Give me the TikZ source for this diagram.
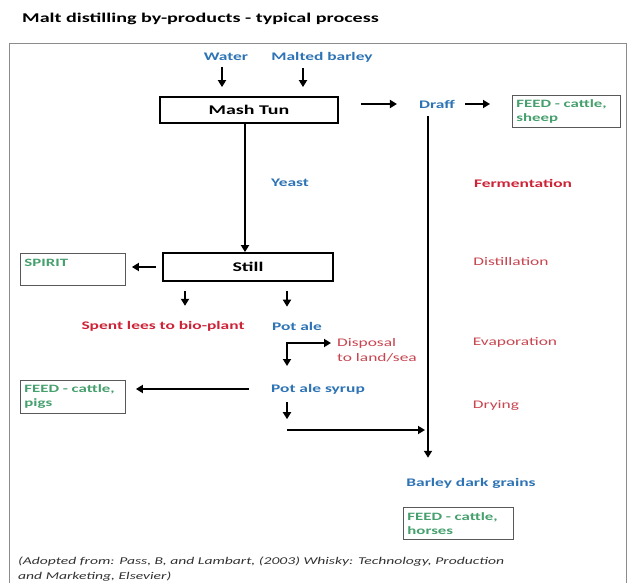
\documentclass[tikz,border=0pt]{standalone}
\usepackage{fontspec}
\setmainfont[FakeStretch=1.5]{Carlito}
\usetikzlibrary{arrows.meta}
\definecolor{lblue}{RGB}{46,116,181}
\definecolor{lgreen}{RGB}{70,160,110}
\definecolor{lred}{RGB}{205,35,55}
\definecolor{lred2}{RGB}{200,70,80}
\definecolor{framegray}{RGB}{140,140,140}
\tikzset{
  arr/.style={line width=1.8pt,-{Triangle[length=7pt,width=8pt]}},
  arrb/.style={line width=1.8pt,{Triangle[length=7pt,width=8pt]}-{Triangle[length=7pt,width=8pt]}},
  bluelab/.style={text=lblue,font=\fontsize{11.6}{13}\selectfont\bfseries,inner sep=0pt},
  redlab/.style={text=lred,font=\fontsize{11.6}{13}\selectfont\bfseries,inner sep=0pt},
  redlab2/.style={text=lred2,font=\fontsize{11.6}{15.5}\selectfont,inner sep=0pt},
  procbox/.style={draw,line width=1.8pt,font=\fontsize{13.3}{15}\selectfont\bfseries,inner sep=0pt},
  feedbox/.style={draw=gray!70!black,line width=0.9pt,text=lgreen,font=\fontsize{11.2}{14}\selectfont\bfseries,align=left,inner xsep=4pt,inner ysep=2pt,anchor=north west}
}
\begin{document}
\begin{tikzpicture}[x=1pt,y=-1pt]
\useasboundingbox (0,0) rectangle (629,583);
\fill[white] (0,0) rectangle (629,583);
% frame
\draw[framegray,line width=1pt] (9,600) -- (9,44) -- (626,44) -- (626,600);
% title
\node[anchor=west,inner sep=0pt,font=\fontsize{13.4}{15}\selectfont\bfseries] (title) at (22,19) {Malt distilling by-products - typical process};
% inputs
\node[bluelab] (water) at (226,57) {Water};
\node[bluelab] (malt) at (322,57) {Malted barley};
\node[procbox,minimum width=178pt,minimum height=26pt] (mash) at (249,110) {Mash Tun};
\node[bluelab] (draff) at (437,104) {Draff};
\node[feedbox,minimum width=108pt,minimum height=32pt,text width=100pt] (feed1) at (512,95) {FEED - cattle,\\sheep};
\node[bluelab] (yeast) at (290,183) {Yeast};
\node[redlab] (ferm) at (523,183) {Fermentation};
\node[procbox,minimum width=170pt,minimum height=28pt] (still) at (248,267) {Still};
\node[feedbox,minimum width=105pt,minimum height=32pt,text width=97pt] (spirit) at (20,253) {SPIRIT\\\mbox{}};
\node[redlab2] (distill) at (511,262) {Distillation};
\node[redlab] (lees) at (163,326) {Spent lees to bio-plant};
\node[bluelab] (potale) at (297,326) {Pot ale};
\node[redlab2,align=left,anchor=west] (disposal) at (337,350) {Disposal\\to land/sea};
\node[redlab2] (evap) at (515,342) {Evaporation};
\node[bluelab] (syrup) at (318,389) {Pot ale syrup};
\node[redlab2] (drying) at (496,406) {Drying};
\node[feedbox,minimum width=105pt,minimum height=33pt,text width=97pt] (feed2) at (20,380) {FEED - cattle,\\pigs};
\node[bluelab] (bdg) at (471,483) {Barley dark grains};
\node[feedbox,minimum width=110pt,minimum height=32pt,text width=102pt] (feed3) at (403,507) {FEED - cattle,\\horses};
\node[anchor=north west,align=left,inner sep=0pt,text=black!80,font=\fontsize{10.4}{14.5}\selectfont\itshape] (cite) at (18,557) {(Adopted from: Pass, B, and Lambart, (2003) Whisky: Technology, Production\\and Marketing, Elsevier)};
% connectors
\coordinate (elbow) at (287,343);
\coordinate (join) at (428,430);
\draw[arr] ([yshift=-6pt]water.south -| 222,0) -- ([yshift=9pt]mash.north -| 222,0);
\draw[arr] ([yshift=-6pt]malt.south -| 303,0) -- ([yshift=9pt]mash.north -| 303,0);
\draw[arr] ([xshift=22pt]mash.east |- draff.west) -- ([xshift=-22pt]draff.west);
\draw[arr] ([xshift=10pt]draff.east) -- ([xshift=-22pt]feed1.west |- draff.east);
\draw[arr] ([yshift=-8pt]draff.south -| 428,0) -- ([yshift=20pt]bdg.north -| 428,0);
\draw[arr] (mash.south -| 245,0) -- (still.north -| 245,0);
\draw[arr] ([xshift=-6pt]still.west) -- ([xshift=6pt]spirit.east |- still.west);
\draw[arr] ([yshift=-9pt]still.south -| 185,0) -- ([yshift=15pt]lees.north -| 185,0);
\draw[arr] ([yshift=-9pt]still.south -| 287,0) -- ([yshift=15pt]potale.north -| 287,0);
\draw[arrb] ([yshift=-23pt]elbow) -- (elbow) -- ([xshift=-6pt]disposal.west |- elbow);
\draw[arr] ([xshift=-22pt]syrup.west) -- ([xshift=10pt]feed2.east |- syrup.west);
\draw[arr] ([yshift=-8pt]syrup.south -| 287,0) -- ([yshift=-25pt]syrup.south -| 287,0);
\draw[arr] ([xshift=-141pt]join) -- ([xshift=-3pt]join);
\end{tikzpicture}
\end{document}
